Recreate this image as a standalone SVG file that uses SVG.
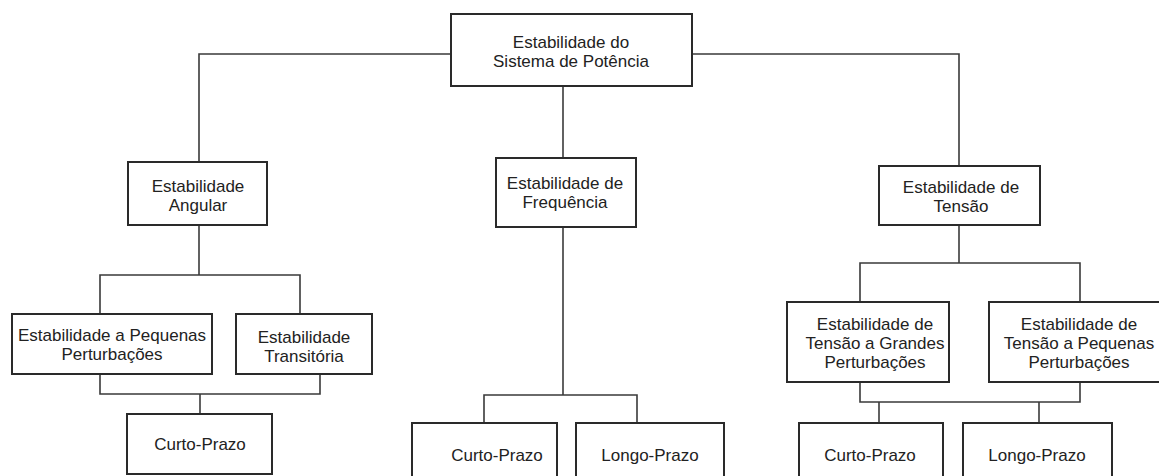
<svg xmlns="http://www.w3.org/2000/svg" width="1159" height="476" viewBox="0 0 1159 476">
<style>
.box{fill:#fff;stroke:#2a2a2a;stroke-width:2}
.c{fill:none;stroke:#3a3a3a;stroke-width:1.6}
text{font-family:"Liberation Sans",Arial,sans-serif;font-size:17px;fill:#222;text-anchor:middle}
</style>
<rect width="1159" height="476" fill="#fff"/>
<g id="connectors">
<polyline class="c" points="451,54 199,54 199,162"/>
<polyline class="c" points="692,54 959,54 959,166"/>
<line class="c" x1="563" y1="86" x2="563" y2="158"/>
<line class="c" x1="199" y1="225" x2="199" y2="275"/>
<polyline class="c" points="100,314 100,275 300,275 300,314"/>
<polyline class="c" points="100,374 100,394 320,394 320,374"/>
<line class="c" x1="200" y1="394" x2="200" y2="414"/>
<line class="c" x1="563" y1="227" x2="563" y2="395"/>
<polyline class="c" points="484,423 484,395 637,395 637,423"/>
<line class="c" x1="959" y1="225" x2="959" y2="263"/>
<polyline class="c" points="860,302 860,263 1080,263 1080,302"/>
<polyline class="c" points="860,382 860,402 1080,402 1080,382"/>
<line class="c" x1="879" y1="402" x2="879" y2="423"/>
<line class="c" x1="1039" y1="402" x2="1039" y2="423"/>
</g>
<g id="n-root"><rect class="box" x="451" y="14" width="241" height="72"/><text x="571" y="48">Estabilidade do</text><text x="571" y="67">Sistema de Potência</text></g>
<g id="n-angular"><rect class="box" x="128" y="162" width="139" height="63"/><text x="198" y="192">Estabilidade</text><text x="198" y="211">Angular</text></g>
<g id="n-frequencia"><rect class="box" x="496" y="158" width="140" height="69"/><text x="565" y="189">Estabilidade de</text><text x="565" y="208">Frequência</text></g>
<g id="n-tensao"><rect class="box" x="879" y="166" width="161" height="59"/><text x="961" y="193">Estabilidade de</text><text x="961" y="212">Tensão</text></g>
<g id="n-pequenas"><rect class="box" x="12" y="314" width="200" height="60"/><text x="112" y="341">Estabilidade a Pequenas</text><text x="112" y="360">Perturbações</text></g>
<g id="n-transitoria"><rect class="box" x="236" y="314" width="136" height="60"/><text x="304" y="343">Estabilidade</text><text x="304" y="362">Transitória</text></g>
<g id="n-ang-curto"><rect class="box" x="127" y="414" width="145" height="60"/><text x="200" y="450">Curto-Prazo</text></g>
<g id="n-freq-curto"><rect class="box" x="412" y="423" width="145" height="64"/><text x="497" y="461">Curto-Prazo</text></g>
<g id="n-freq-longo"><rect class="box" x="576" y="423" width="148" height="64"/><text x="650" y="461">Longo-Prazo</text></g>
<g id="n-tens-grandes"><rect class="box" x="787" y="302" width="162" height="80"/><text x="875" y="330">Estabilidade de</text><text x="875" y="349">Tensão a Grandes</text><text x="875" y="368">Perturbações</text></g>
<g id="n-tens-pequenas"><rect class="box" x="989" y="302" width="180" height="80"/><text x="1079" y="330">Estabilidade de</text><text x="1079" y="349">Tensão a Pequenas</text><text x="1079" y="368">Perturbações</text></g>
<g id="n-tens-curto"><rect class="box" x="799" y="423" width="144" height="64"/><text x="870" y="461">Curto-Prazo</text></g>
<g id="n-tens-longo"><rect class="box" x="963" y="423" width="149" height="64"/><text x="1037" y="461">Longo-Prazo</text></g>
</svg>
